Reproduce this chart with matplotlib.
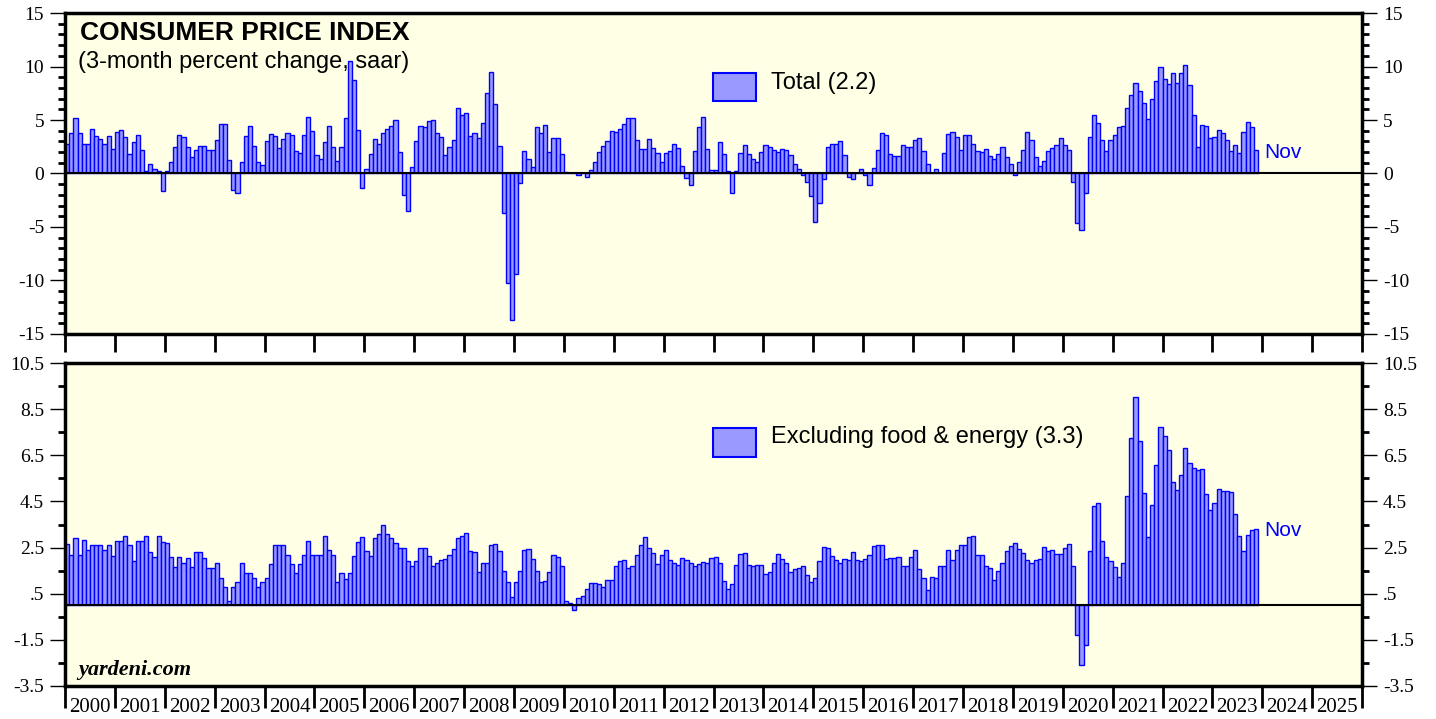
import numpy as np
import matplotlib.pyplot as plt
from matplotlib.patches import Rectangle
from matplotlib.ticker import FuncFormatter

plt.rcParams['font.family'] = 'Liberation Serif'

# CPI, 3-month percent change saar, monthly from Jan 2000 to Nov 2023
total_cpi = [
    2.8, 3.8, 5.2, 3.8, 2.8, 2.8, 4.2, 3.5, 3.2, 2.8, 3.5, 2.3,        # 2000
    3.9, 4.1, 3.4, 1.8, 2.9, 3.6, 2.2, 0.2, 0.9, 0.4, 0.2, -1.6,       # 2001
    0.2, 1.1, 2.5, 3.6, 3.4, 2.5, 1.5, 2.2, 2.6, 2.6, 2.2, 2.2,        # 2002
    3.1, 4.6, 4.6, 1.3, -1.5, -1.8, 1.1, 3.5, 4.4, 2.6, 1.1, 0.8,      # 2003
    3.0, 3.7, 3.5, 2.4, 3.2, 3.8, 3.6, 2.1, 1.9, 3.6, 5.3, 4.0,        # 2004
    1.7, 1.4, 2.9, 4.4, 2.5, 1.2, 2.5, 5.2, 10.5, 8.7, 4.1, -1.4,      # 2005
    0.4, 1.8, 3.2, 2.8, 3.8, 4.2, 4.4, 5.0, 2.0, -2.0, -3.5, 0.6,      # 2006
    3.0, 4.4, 4.3, 4.9, 5.0, 3.8, 3.4, 1.7, 2.5, 3.1, 6.1, 5.5,        # 2007
    5.7, 3.5, 3.8, 3.3, 4.7, 7.5, 9.5, 6.5, 2.6, -3.7, -10.2, -13.7,   # 2008
    -9.4, -0.9, 2.1, 1.4, 0.6, 4.3, 3.8, 4.5, 2.0, 3.3, 3.3, 1.8,      # 2009
    0.1, 0.0, 0.0, -0.1, 0.0, -0.3, 0.3, 1.1, 2.0, 2.6, 3.0, 4.0,      # 2010
    3.9, 4.2, 4.6, 5.2, 5.2, 3.1, 2.3, 2.3, 3.2, 2.4, 1.9, 1.1,        # 2011
    1.9, 2.1, 2.8, 2.4, 0.7, -0.4, -1.1, 2.1, 4.3, 5.3, 2.3, 0.3,      # 2012
    0.3, 2.9, 1.8, 0.2, -1.8, 0.2, 1.9, 2.7, 1.8, 1.4, 1.1, 2.0,       # 2013
    2.7, 2.5, 2.2, 2.0, 2.3, 2.2, 1.7, 0.9, 0.4, -0.1, -0.8, -2.1,     # 2014
    -4.5, -2.8, -0.5, 2.5, 2.8, 2.8, 3.0, 1.7, -0.3, -0.5, 0.0, 0.4,   # 2015
    -0.1, -1.1, 0.5, 2.2, 3.8, 3.6, 1.8, 1.6, 1.6, 2.7, 2.5, 2.5,      # 2016
    3.1, 3.3, 2.1, 0.9, 0.0, 0.4, 0.0, 1.9, 3.7, 3.9, 3.4, 2.2,        # 2017
    3.6, 3.6, 2.8, 2.1, 2.0, 2.3, 1.6, 1.4, 1.8, 2.5, 1.5, 0.9,        # 2018
    -0.1, 1.1, 2.2, 3.9, 3.1, 1.5, 0.7, 1.2, 2.1, 2.4, 2.7, 3.3,       # 2019
    2.7, 2.2, -0.8, -4.6, -5.3, -1.8, 3.4, 5.5, 4.7, 3.1, 2.1, 3.1,    # 2020
    3.6, 4.3, 4.4, 6.1, 7.3, 8.5, 7.7, 6.6, 5.1, 7.0, 8.6, 10.0,       # 2021
    8.8, 8.4, 9.4, 8.5, 9.4, 10.1, 8.3, 5.5, 2.5, 4.5, 4.4, 3.3,       # 2022
    3.4, 4.1, 3.8, 3.1, 2.1, 2.7, 1.9, 3.9, 4.8, 4.3, 2.2,             # 2023
]

core_cpi = [
    2.65, 2.2, 2.9, 2.2, 2.85, 2.4, 2.6, 2.6, 2.6, 2.4, 2.6, 2.15,     # 2000
    2.8, 2.8, 3.0, 2.6, 1.9, 2.8, 2.8, 3.0, 2.3, 2.1, 3.0, 2.75,       # 2001
    2.7, 2.1, 1.65, 2.1, 1.85, 2.05, 1.65, 2.3, 2.3, 2.05, 1.6, 1.6,   # 2002
    1.85, 1.2, 0.8, 0.2, 0.8, 1.0, 1.85, 1.4, 1.4, 1.2, 0.8, 1.0,      # 2003
    1.2, 1.8, 2.6, 2.6, 2.6, 2.2, 1.8, 1.4, 1.8, 2.2, 2.8, 2.2,        # 2004
    2.2, 2.2, 3.0, 2.4, 2.2, 1.0, 1.4, 1.15, 1.4, 2.15, 2.75, 2.95,    # 2005
    2.35, 2.15, 2.9, 3.1, 3.5, 3.1, 2.9, 2.7, 2.5, 2.5, 1.9, 1.7,      # 2006
    1.9, 2.5, 2.5, 2.15, 1.7, 1.85, 1.95, 2.0, 2.2, 2.45, 2.9, 3.0,    # 2007
    3.15, 2.35, 2.3, 1.45, 1.85, 1.85, 2.6, 2.65, 2.35, 1.5, 1.0, 0.35,  # 2008
    1.0, 1.5, 2.4, 2.45, 2.0, 1.5, 1.0, 1.05, 1.45, 2.2, 2.1, 1.7,     # 2009
    0.2, 0.1, -0.2, 0.3, 0.4, 0.7, 0.95, 0.95, 0.9, 0.8, 1.1, 1.1,     # 2010
    1.7, 1.9, 1.95, 1.6, 1.7, 2.2, 2.6, 2.95, 2.5, 2.25, 1.8, 2.2,     # 2011
    2.38, 1.95, 1.84, 1.76, 2.05, 1.98, 1.82, 1.72, 1.79, 1.86, 1.81, 2.05,  # 2012
    2.1, 1.81, 1.04, 0.69, 0.92, 1.76, 2.24, 2.27, 1.76, 1.72, 1.76, 1.73,   # 2013
    1.37, 1.45, 1.84, 2.23, 2.02, 1.84, 1.45, 1.56, 1.62, 1.72, 1.3, 1.01,   # 2014
    1.16, 1.91, 2.53, 2.49, 2.15, 1.98, 1.84, 2.02, 1.94, 2.31, 1.98, 1.91,  # 2015
    2.02, 2.2, 2.56, 2.62, 2.62, 2.02, 2.04, 2.05, 2.08, 1.68, 1.71, 2.08,   # 2016
    2.38, 1.59, 1.18, 0.66, 1.23, 1.18, 1.72, 1.68, 2.38, 1.98, 2.38, 2.63,  # 2017
    2.63, 2.95, 2.99, 2.2, 2.2, 1.72, 1.62, 1.11, 1.47, 1.84, 2.37, 2.59,    # 2018
    2.7, 2.46, 2.27, 1.94, 1.84, 1.98, 2.01, 2.51, 2.34, 2.41, 2.24, 2.24,   # 2019
    2.49, 2.66, 1.72, -1.3, -2.57, -1.73, 2.34, 4.32, 4.44, 2.77, 2.08, 1.91,  # 2020
    1.65, 1.21, 1.84, 4.74, 7.23, 9.02, 7.11, 4.87, 2.95, 4.36, 6.08, 7.72,  # 2021
    7.33, 6.75, 5.35, 5.01, 5.66, 6.82, 6.17, 5.95, 5.85, 5.92, 4.84, 4.15,  # 2022
    4.44, 5.04, 4.97, 4.97, 4.9, 3.97, 2.99, 2.37, 3.03, 3.28, 3.3,          # 2023
]

years = [str(y) for y in range(2000, 2026)]
last_month = "Nov"
total_label = "Total (2.2)"
core_label = "Excluding food & energy (3.3)"

bg = '#FFFFE6'
fill = '#9999FF'
edge = '#0000FF'
sans = 'Liberation Sans'

fig = plt.figure(figsize=(14.36, 7.19), dpi=100)
ax1 = fig.add_axes([0.0453, 0.5355, 0.9032, 0.4464])
ax2 = fig.add_axes([0.0453, 0.0459, 0.9032, 0.4492])

n_months = len(years) * 12

for ax, vals in [(ax1, total_cpi), (ax2, core_cpi)]:
    ax.set_facecolor(bg)
    ax.bar(np.arange(len(vals)), vals, width=1, align='edge',
           color=fill, edgecolor=edge, linewidth=1, zorder=2)
    ax.axhline(0, color='black', lw=1.5, zorder=3)
    ax.set_xlim(0, n_months)
    for sp in ax.spines.values():
        sp.set_linewidth(2.5)
    ax.set_xticks(np.arange(0, n_months + 1, 12))
    ax.tick_params(axis='x', which='major', direction='out', length=13,
                   width=2, labelbottom=False)
    ax.tick_params(axis='y', which='major', direction='out', length=11,
                   width=1, left=True, right=True, labelleft=True,
                   labelright=True, labelsize=14, pad=4)
    ax.tick_params(axis='y', which='minor', direction='out', length=5,
                   width=2, left=True, right=True)

# top panel
ax1.set_ylim(-15, 15)
ax1.set_yticks(np.arange(-15, 16, 5))
ax1.set_yticks(np.arange(-15, 16, 1), minor=True)
ax1.yaxis.set_major_formatter(FuncFormatter(lambda v, p: f"{v:g}"))

ax1.text(0.0116, 0.938, "CONSUMER PRICE INDEX", transform=ax1.transAxes,
         family=sans, fontsize=19, fontweight='bold', va='center', ha='left')
ax1.text(0.0100, 0.847, "(3-month percent change, saar)", transform=ax1.transAxes,
         family=sans, fontsize=17, va='center', ha='left')
ax1.add_patch(Rectangle((0.4996, 0.726), 0.0332, 0.087, transform=ax1.transAxes,
                        facecolor=fill, edgecolor=edge, lw=1.5, zorder=4))
ax1.text(0.5443, 0.782, total_label, transform=ax1.transAxes,
         family=sans, fontsize=17, va='center', ha='left')
ax1.text(len(total_cpi) + 1.5, total_cpi[-1] - 0.2, last_month, color=edge,
         family=sans, fontsize=15, va='center', ha='left')

# bottom panel
ax2.set_ylim(-3.5, 10.5)
ax2.set_yticks(np.arange(-3.5, 10.6, 2))
ax2.set_yticks(np.arange(-3.5, 10.6, 1), minor=True)
ax2.yaxis.set_major_formatter(
    FuncFormatter(lambda v, p: f"{v:g}".replace("0.5", ".5") if abs(v) < 1 else f"{v:g}"))
ax2.tick_params(axis='x', which='major', length=16)
ax2.set_xticks(np.arange(6, n_months, 12), minor=True)
ax2.set_xticklabels(years, minor=True)
ax2.tick_params(axis='x', which='minor', length=0, pad=9, labelsize=15)

ax2.add_patch(Rectangle((0.4996, 0.709), 0.0332, 0.090, transform=ax2.transAxes,
                        facecolor=fill, edgecolor=edge, lw=1.5, zorder=4))
ax2.text(0.5443, 0.771, core_label, transform=ax2.transAxes,
         family=sans, fontsize=17, va='center', ha='left')
ax2.text(len(core_cpi) + 1.5, core_cpi[-1] - 0.05, last_month, color=edge,
         family=sans, fontsize=15, va='center', ha='left')
ax2.text(0.010, 0.05, "yardeni.com", transform=ax2.transAxes,
         fontsize=16, fontweight='bold', fontstyle='italic', va='center', ha='left')

fig.savefig("out.png", dpi=100, facecolor='white')
